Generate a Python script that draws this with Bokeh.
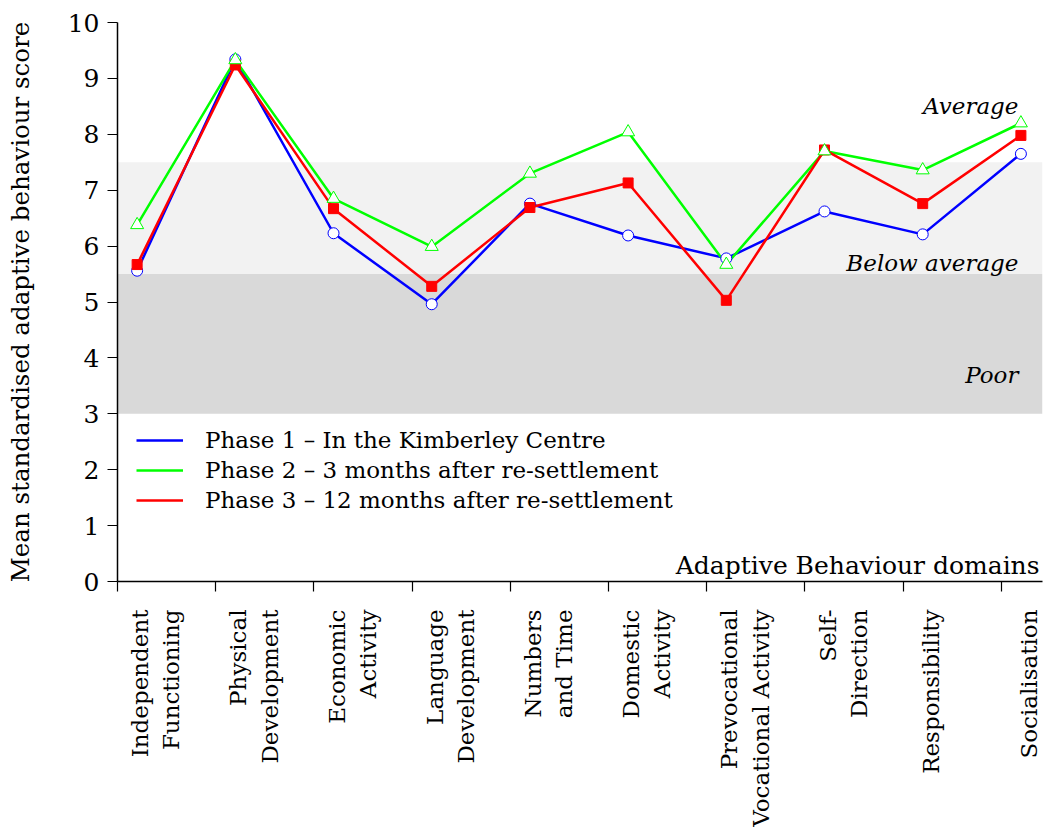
from math import pi
from bokeh.plotting import figure
from bokeh.models import (FixedTicker, Label, Legend, LegendItem, BoxAnnotation,
                          Range1d, CustomJSTickFormatter, LinearAxis)
from bokeh.embed import file_html
from bokeh.resources import INLINE

# ---- data ----
category_lines = [
    ["Independent", "Functioning"],
    ["Physical", "Development"],
    ["Economic", "Activity"],
    ["Language", "Development"],
    ["Numbers", "and Time"],
    ["Domestic", "Activity"],
    ["Prevocational", "Vocational Activity"],
    ["Self-", "Direction"],
    ["Responsibility"],
    ["Socialisation"],
]
phase1 = [5.56, 9.34, 6.23, 4.96, 6.76, 6.19, 5.78, 6.62, 6.21, 7.65]
phase2 = [6.38, 9.33, 6.85, 5.99, 7.30, 8.04, 5.67, 7.70, 7.36, 8.20]
phase3 = [5.67, 9.24, 6.67, 5.28, 6.69, 7.13, 5.03, 7.72, 6.76, 7.98]
series_names = [
    "Phase 1 \u2013 In the Kimberley Centre",
    "Phase 2 \u2013 3 months after re-settlement",
    "Phase 3 \u2013 12 months after re-settlement",
]
y_ticks = list(range(0, 11))
bands = [(3.0, 5.5, "#d9d9d9"), (5.5, 7.5, "#f2f2f2")]
band_labels = [("Average", 8.50), ("Below average", 5.69), ("Poor", 3.70)]

FONT = "DejaVu Serif"
xs = list(range(len(category_lines)))
tick_shift = -0.2

p = figure(width=1043, height=836, output_backend="svg", toolbar_location=None,
           x_range=Range1d(-0.2, 9.22), y_range=Range1d(0, 10),
           min_border_left=117, min_border_right=1, min_border_top=22,
           min_border_bottom=255)
p.outline_line_color = None
p.grid.visible = False
p.background_fill_color = "white"
p.border_fill_color = "white"

for lo, hi, col in bands:
    p.add_layout(BoxAnnotation(bottom=lo, top=hi, fill_color=col, fill_alpha=1.0,
                               line_alpha=0, level="underlay"))

# y axis
p.yaxis.ticker = FixedTicker(ticks=y_ticks)
p.yaxis.major_tick_out = 10
p.yaxis.major_tick_in = 0
p.yaxis.minor_tick_out = 0
p.yaxis.minor_tick_in = 0
p.yaxis.axis_line_width = 1.5
p.yaxis.major_tick_line_width = 1.2
p.yaxis.major_label_text_font = FONT
p.yaxis.major_label_text_font_size = "25px"
p.yaxis.major_label_text_color = "black"
p.yaxis.major_label_standoff = 8
p.yaxis.axis_label = "Mean standardised adaptive behaviour score"
p.yaxis.axis_label_text_font = FONT
p.yaxis.axis_label_text_font_style = "normal"
p.yaxis.axis_label_text_font_size = "24.5px"
p.yaxis.axis_label_text_color = "black"
p.yaxis.axis_label_standoff = 30

# x axis: tick marks only
p.xaxis.ticker = FixedTicker(ticks=[x + tick_shift for x in xs])
p.xaxis.formatter = CustomJSTickFormatter(code="return ''")
p.xaxis.major_tick_out = 10
p.xaxis.major_tick_in = 0
p.xaxis.minor_tick_out = 0
p.xaxis.minor_tick_in = 0
p.xaxis.axis_line_width = 1.5
p.xaxis.major_tick_line_width = 1.2
p.xaxis.major_label_standoff = 0

# x axis: category labels (second axis below, no line / ticks)
label_ticks = [k + (0.19 if len(lines) == 2 else 0.085)
               for k, lines in enumerate(category_lines)]
label_axis = LinearAxis(
    ticker=FixedTicker(ticks=label_ticks),
    formatter=CustomJSTickFormatter(
        args=dict(labels=["\n".join(l) for l in category_lines]),
        code="return labels[Math.round(tick - 0.1)]"),
    axis_line_color=None, major_tick_line_color=None,
    minor_tick_line_color=None, major_tick_out=0, major_tick_in=0,
    minor_tick_out=0, minor_tick_in=0,
    major_label_orientation=pi / 2, major_label_standoff=18,
    major_label_text_font=FONT, major_label_text_font_size="23px",
    major_label_text_color="black")
p.add_layout(label_axis, "below")

colors = ["#0000ff", "#00ff00", "#ff0000"]
lw = 2.5
l1 = p.line(xs, phase1, line_color=colors[0], line_width=lw)
l2 = p.line(xs, phase2, line_color=colors[1], line_width=lw)
l3 = p.line(xs, phase3, line_color=colors[2], line_width=lw)
p.scatter(xs, phase1, marker="circle", size=11, fill_color="white",
          line_color=colors[0], line_width=1)
p.scatter(xs, phase3, marker="square", size=10, fill_color=colors[2],
          line_color=colors[2], line_width=1)
p.scatter(xs, phase2, marker="triangle", size=13, fill_color="white",
          line_color=colors[1], line_width=1)

legend = Legend(items=[LegendItem(label=series_names[0], renderers=[l1]),
                       LegendItem(label=series_names[1], renderers=[l2]),
                       LegendItem(label=series_names[2], renderers=[l3])],
                location=(19, 66), padding=0, margin=0, spacing=0,
                glyph_width=47, glyph_height=30, label_height=30,
                label_standoff=22, border_line_color=None,
                background_fill_alpha=0)
legend.label_text_font = FONT
legend.label_text_font_size = "23px"
legend.label_text_color = "black"
p.add_layout(legend)

for txt, yv in band_labels:
    p.add_layout(Label(x=8.975, y=yv, text=txt, text_align="right",
                       text_baseline="alphabetic", text_font=FONT,
                       text_font_style="italic", text_font_size="23px",
                       text_color="black"))

p.add_layout(Label(x=9.19, y=0.286, text="Adaptive Behaviour domains",
                   text_align="right", text_baseline="alphabetic",
                   text_font=FONT, text_font_size="25px", text_color="black"))

open("out.html", "w").write(file_html(p, INLINE))
